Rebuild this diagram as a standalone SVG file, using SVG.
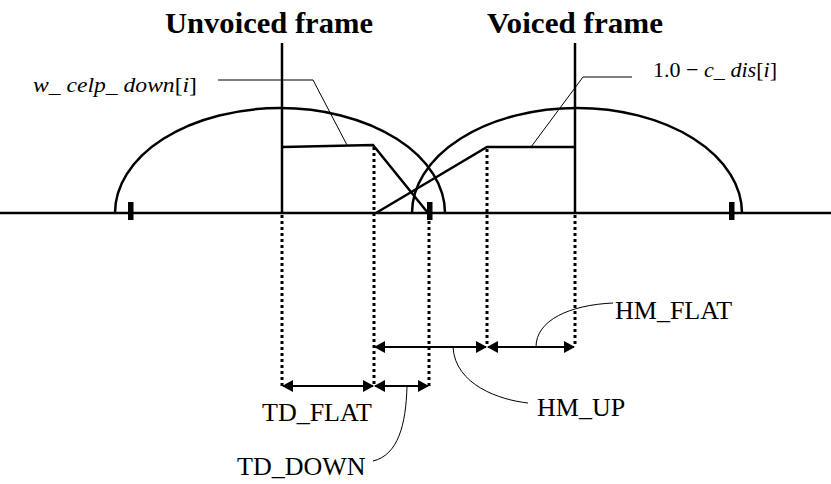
<svg xmlns="http://www.w3.org/2000/svg" width="831" height="484" viewBox="0 0 831 484">
<defs>
<style>
.thick{fill:none;stroke:#000;stroke-width:2.5}
.thin{fill:none;stroke:#000;stroke-width:1}
.dot{fill:none;stroke:#000;stroke-width:3;stroke-dasharray:3 3}
.arr{fill:none;stroke:#000;stroke-width:2;marker-start:url(#ah);marker-end:url(#ah)}
.title{font-family:"Liberation Serif","Times New Roman",serif;font-weight:bold;font-size:29px;fill:#000}
.lbl{font-family:"Liberation Serif","Times New Roman",serif;font-size:26px;fill:#000}
.math{font-family:"Liberation Serif","Times New Roman",serif;font-size:22px;fill:#000}
.it{font-style:italic}
</style>
<marker id="ah" markerUnits="userSpaceOnUse" markerWidth="11" markerHeight="12" refX="10" refY="6" orient="auto-start-reverse" viewBox="0 0 11 12">
<path d="M0,0 L11,6 L0,12 z" fill="#000"/>
</marker>
</defs>
<rect width="831" height="484" fill="#fff"/>
<g id="axis">
<line class="thick" x1="0" y1="213" x2="831" y2="213"/>
<rect x="128" y="202" width="5.5" height="18" fill="#000"/>
<rect x="427" y="202" width="5.5" height="18" fill="#000"/>
<rect x="729" y="202" width="5.5" height="18" fill="#000"/>
</g>
<g id="unvoiced-frame">
<text class="title" x="165" y="33" textLength="208" lengthAdjust="spacingAndGlyphs">Unvoiced frame</text>
<line class="thick" x1="282" y1="43" x2="282" y2="213"/>
<path class="thick" d="M115,213 A165,105 0 0 1 445,213"/>
<path class="thick" d="M283,147 L373,145 L428,213"/>
</g>
<g id="voiced-frame">
<text class="title" x="487" y="33" textLength="176" lengthAdjust="spacingAndGlyphs">Voiced frame</text>
<line class="thick" x1="575" y1="43" x2="575" y2="213"/>
<path class="thick" d="M412,213 A165,105 0 0 1 742,213"/>
<path class="thick" d="M376,213 L487,147 L575,147"/>
</g>
<g id="label-w-celp-down">
<text class="math" x="33" y="92" textLength="164" lengthAdjust="spacingAndGlyphs"><tspan class="it">w</tspan>_ <tspan class="it">celp</tspan>_ <tspan class="it">down</tspan>[<tspan class="it">i</tspan>]</text>
</g>
<g id="label-c-dis">
<text class="math" x="653" y="77" textLength="124" lengthAdjust="spacingAndGlyphs">1.0 − <tspan class="it">c</tspan>_ <tspan class="it">dis</tspan>[<tspan class="it">i</tspan>]</text>
</g>
<g id="label-td-flat"><text class="lbl" x="262" y="421">TD_FLAT</text></g>
<g id="label-td-down"><text class="lbl" x="237" y="475">TD_DOWN</text></g>
<g id="label-hm-up"><text class="lbl" x="537" y="416">HM_UP</text></g>
<g id="label-hm-flat"><text class="lbl" x="615" y="319">HM_FLAT</text></g>
<g id="connectors">
<path class="thin" d="M218,80 L313,80 L347,145"/>
<path class="thin" d="M632,77 L583,77 L531,147"/>
<line class="dot" x1="282" y1="215" x2="282" y2="386"/>
<line class="dot" x1="374" y1="147" x2="374" y2="386"/>
<line class="dot" x1="429" y1="221" x2="429" y2="386"/>
<line class="dot" x1="487" y1="149" x2="487" y2="344"/>
<line class="dot" x1="575" y1="215" x2="575" y2="344"/>
<line class="arr" x1="375" y1="347" x2="486" y2="347"/>
<line class="arr" x1="488" y1="347" x2="574" y2="347"/>
<line class="arr" x1="283" y1="386" x2="373" y2="386"/>
<line class="arr" x1="375" y1="386" x2="428" y2="386"/>
<path class="thin" d="M373,461 C398,455 406,425 407,386"/>
<path class="thin" d="M453,347 C455,385 500,400 528,403"/>
<path class="thin" d="M536,347 C536,320 570,305 613,303"/>
</g>
</svg>
